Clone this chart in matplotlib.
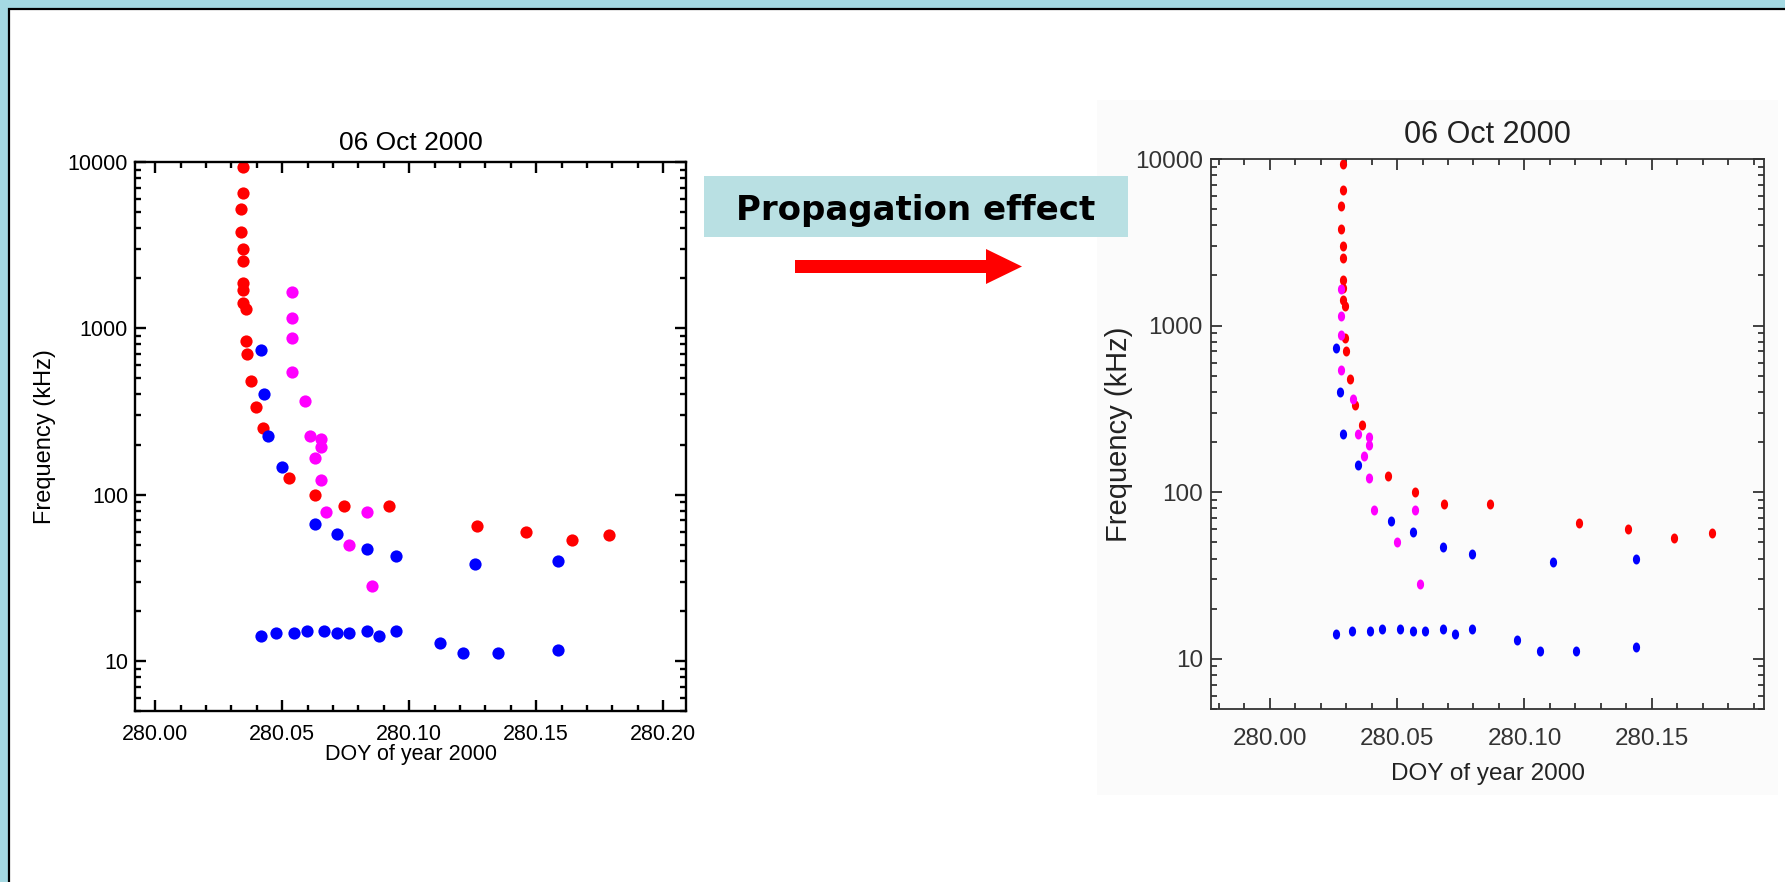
import matplotlib
matplotlib.use('Agg')
import matplotlib.pyplot as plt
import matplotlib.patches as mpatches
from matplotlib import font_manager
from matplotlib.ticker import FixedLocator, MultipleLocator, LogLocator, NullFormatter, FuncFormatter
import numpy as np

# frequencies are the same in both panels, only the times move
red_freq = [9300, 6500, 5200, 3800, 3000, 2550, 1870, 1690, 1420, 1310, 840, 700,
            480, 335, 252, 126, 100, 85, 85, 65, 60, 53, 57]
red_doy_obs = [280.0347, 280.0347, 280.0339, 280.0339, 280.0347, 280.0347, 280.0347,
               280.0347, 280.0347, 280.0356, 280.0356, 280.0360, 280.0375, 280.0395,
               280.0423, 280.0526, 280.0630, 280.0742, 280.0919, 280.1265, 280.1460,
               280.1640, 280.1786]
red_doy_corr = [280.0289, 280.0289, 280.0280, 280.0280, 280.0289, 280.0289, 280.0289,
                280.0289, 280.0289, 280.0296, 280.0296, 280.0301, 280.0314, 280.0337,
                280.0363, 280.0466, 280.0571, 280.0684, 280.0866, 280.1213, 280.1407,
                280.1588, 280.1735]

mag_freq = [1650, 1146, 876, 543, 364, 224, 215, 193, 165, 122, 78.6, 50, 78.6, 28.3]
mag_doy_obs = [280.0540, 280.0540, 280.0540, 280.0540, 280.0588, 280.0611, 280.0654,
               280.0654, 280.0630, 280.0654, 280.0674, 280.0761, 280.0832, 280.0853]
mag_doy_corr = [280.0279, 280.0279, 280.0279, 280.0279, 280.0328, 280.0347, 280.0391,
                280.0391, 280.0370, 280.0391, 280.0410, 280.0500, 280.0571, 280.0592]

blue_freq = [736, 400, 224, 146, 66.8, 57.6, 46.8, 42.8, 38.3, 39.9,
             14.1, 14.7, 14.7, 15.2, 15.2, 14.7, 14.7, 15.2, 14.1, 15.2, 12.9, 11.1, 11.1, 11.7]
blue_doy_obs = [280.0416, 280.0430, 280.0444, 280.0500, 280.0630, 280.0714, 280.0832,
                280.0949, 280.1260, 280.1586,
                280.0416, 280.0477, 280.0547, 280.0597, 280.0665, 280.0714, 280.0761,
                280.0832, 280.0879, 280.0949, 280.1121, 280.1212, 280.1349, 280.1586]
blue_doy_corr = [280.0261, 280.0275, 280.0289, 280.0345, 280.0477, 280.0561, 280.0680,
                 280.0796, 280.1111, 280.1437,
                 280.0261, 280.0324, 280.0393, 280.0442, 280.0512, 280.0561, 280.0608,
                 280.0680, 280.0729, 280.0796, 280.0971, 280.1062, 280.1201, 280.1437]

freq_ticks = [10, 100, 1000, 10000]
title = '06 Oct 2000'

sans = ['Liberation Sans', 'DejaVu Sans']
# the right picture is squeezed sideways, use a narrow face if there is one
installed = {f.name for f in font_manager.fontManager.ttflist}
narrow_name = None
for n in ['Liberation Sans Narrow', 'Arial Narrow']:
    if n in installed:
        narrow_name = n
        break
if narrow_name:
    narrow = [narrow_name] + sans
    r_title, r_tick, r_lab = 25, 20, 20
else:
    narrow = sans
    r_title, r_tick, r_lab = 22, 17.5, 17.5

W, H = 1785, 882
fig = plt.figure(figsize=(W / 100, H / 100), dpi=100, facecolor='#a4d9e2')

# slide background, label box and arrow (pixel coords)
bg = fig.add_axes([0, 0, 1, 1], zorder=0)
bg.set_xlim(0, W)
bg.set_ylim(H, 0)
bg.axis('off')
bg.add_patch(mpatches.Rectangle((9, 9), W + 30, H + 30, facecolor='white', edgecolor='black', lw=1.6))
bg.add_patch(mpatches.Rectangle((1097, 100), 681, 695, facecolor='#fbfbfb', edgecolor='none'))
bg.add_patch(mpatches.Rectangle((704, 176), 424, 61, facecolor='#b9e0e3', edgecolor='none'))
bg.text(916, 220, 'Propagation effect', fontsize=24.5, fontweight='bold',
        family='DejaVu Sans', ha='center', va='baseline')
bg.add_patch(mpatches.Polygon([(795, 260), (986, 260), (986, 249), (1022, 266.5),
                               (986, 284), (986, 273), (795, 273)],
                              closed=True, facecolor='#ff0000', edgecolor='none'))


def setup(ax, xlim, lw, col, fs, fam, xpad, ypad):
    ax.set_yscale('log')
    ax.set_xlim(*xlim)
    ax.set_ylim(5, 10000)
    ax.yaxis.set_major_locator(FixedLocator(freq_ticks))
    ax.yaxis.set_major_formatter(FuncFormatter(lambda v, p: '%d' % round(v)))
    ax.yaxis.set_minor_locator(LogLocator(base=10, subs=np.arange(2, 10), numticks=20))
    ax.yaxis.set_minor_formatter(NullFormatter())
    ax.xaxis.set_major_locator(MultipleLocator(0.05))
    ax.xaxis.set_minor_locator(MultipleLocator(0.01))
    ax.xaxis.set_major_formatter(FuncFormatter(lambda v, p: '%.2f' % v))
    ax.tick_params(which='both', direction='in', top=True, right=True, width=lw, color=col)
    ax.tick_params(which='major', length=7.9)
    ax.tick_params(which='minor', length=4)
    ax.tick_params(axis='x', pad=xpad, labelsize=fs, labelcolor=col, labelfontfamily=fam)
    ax.tick_params(axis='y', pad=ypad, labelsize=fs, labelcolor=col, labelfontfamily=fam)
    for s in ax.spines.values():
        s.set_linewidth(lw)
        s.set_color(col)


# left panel: observed times
ax1 = fig.add_axes([135 / W, 1 - 711 / H, 551 / W, 549 / H], zorder=2)
setup(ax1, (279.992, 280.209), 1.7, 'black', 15.5, sans, 9.0, 5)
ax1.plot(red_doy_obs, red_freq, 'o', color='#ff0000', ms=8.8, mew=0)
ax1.plot(mag_doy_obs, mag_freq, 'o', color='#ff00ff', ms=8.8, mew=0)
ax1.plot(blue_doy_obs, blue_freq, 'o', color='#0000ff', ms=8.8, mew=0)
ax1.set_title(title, fontsize=19, family=sans, pad=8.6)
ax1.set_xlabel('DOY of year 2000', fontsize=15.5, family=sans, va='baseline')
ax1.xaxis.set_label_coords(0.5, (711 - 760) / 549)
ax1.set_ylabel('Frequency (kHz)', fontsize=17, family=sans, va='center')
ax1.yaxis.set_label_coords((45 - 135) / 551, 0.5)

# right panel: corrected times, picture is stretched so dots are ellipses
t = np.linspace(0, 2 * np.pi, 41)
ell = list(zip(0.72 * np.cos(t), np.sin(t)))
ax2 = fig.add_axes([1211 / W, 1 - 709 / H, 553 / W, 550 / H], zorder=2)
ax2.set_facecolor('none')
setup(ax2, (279.977, 280.194), 1.3, '#333333', r_tick, narrow, 13.5, 5.8)
ax2.plot(red_doy_corr, red_freq, ls='none', marker=ell, color='#ff0000', ms=7.2, mew=0)
ax2.plot(mag_doy_corr, mag_freq, ls='none', marker=ell, color='#ff00ff', ms=7.2, mew=0)
ax2.plot(blue_doy_corr, blue_freq, ls='none', marker=ell, color='#0000ff', ms=7.2, mew=0)
ax2.set_title(title, fontsize=r_title, family=narrow, color='#222222', pad=11.5)
ax2.set_xlabel('DOY of year 2000', fontsize=r_lab, family=narrow, color='#222222', va='baseline')
ax2.xaxis.set_label_coords(0.5, (709 - 780) / 550)
ax2.set_ylabel('Frequency (kHz)', fontsize=21, family=sans, color='#222222', va='center')
ax2.yaxis.set_label_coords((1119 - 1211) / 553, 0.5)

fig.savefig('out.png', dpi=100, facecolor=fig.get_facecolor())
plt.close(fig)
